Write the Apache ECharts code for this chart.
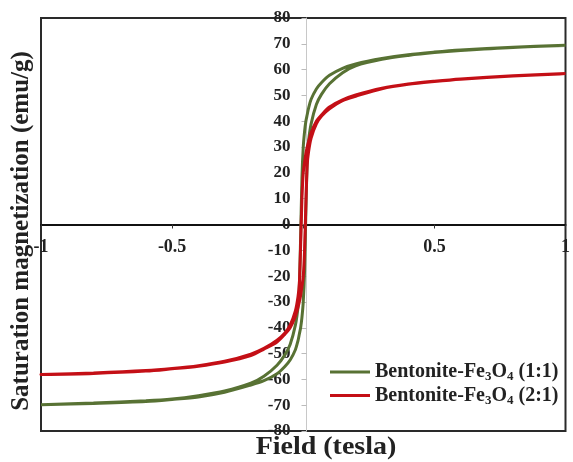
<!DOCTYPE html>
<html>
<head>
    <meta charset="utf-8">
    <title>ECharts</title>
    <script src="https://cdn.jsdelivr.net/npm/echarts@6/dist/echarts.min.js"></script>
    <style>
        html, body { margin: 0; padding: 0; background: #fff; }
    </style>
</head>
<body>
    <div id="main" style="width: 573px;height:462px;"></div>

    <script type="text/javascript">
    // field values (tesla), ascending
    var fieldT = [-1, -0.8, -0.6, -0.5, -0.4, -0.3, -0.2, -0.15, -0.1, -0.07, -0.05, -0.03, -0.02, -0.015, -0.01, -0.005,
        0, 0.005, 0.01, 0.015, 0.02, 0.03, 0.05, 0.07, 0.1, 0.15, 0.2, 0.3, 0.4, 0.5, 0.6, 0.8, 1];

    // Bentonite-Fe3O4 (1:1): upper (field going down) and lower (field going up) branches
    var green_upper = [-69.8, -69.2, -68.3, -67.6, -66.3, -64.5, -61.5, -58.8, -54.5, -50.5, -46.5, -39, -32, -24, -5, 18,
        30, 36, 40, 42.5, 45, 48.5, 52.5, 55, 57.8, 60.5, 62.2, 64.3, 65.8, 66.8, 67.6, 68.7, 69.4];
    var green_lower = [-69.9, -69.3, -68.6, -67.8, -66.8, -65, -62.2, -60.5, -57.8, -55, -52.5, -48.5, -45, -42.5, -40, -36,
        -30, -18, 5, 24, 32, 39, 46.5, 50.5, 54.5, 58.8, 61.5, 64, 65.5, 66.6, 67.4, 68.6, 69.3];

    // Bentonite-Fe3O4 (2:1)
    var red_upper = [-58.1, -57.5, -56.6, -55.8, -54.7, -53, -50.2, -48, -44.8, -42, -39, -33.5, -28, -23, -8, 10,
        20, 24, 27.5, 30, 32, 35.5, 40, 42.5, 45.5, 48.3, 50.2, 52.8, 54.4, 55.5, 56.4, 57.6, 58.5];
    var red_lower = [-58.2, -57.7, -56.8, -55.9, -54.9, -53.3, -50.8, -48.3, -45.5, -42.5, -40, -35.5, -32, -30, -27.5, -24,
        -20, -10, 8, 23, 28, 33.5, 39, 42, 44.8, 48, 49.7, 52.6, 54.3, 55.4, 56.3, 57.5, 58.4];

    var seriesNames = ['Bentonite-Fe3O4 (1:1)', 'Bentonite-Fe3O4 (2:1)'];
    var seriesColors = ['#587234', '#c40f16'];

    function loop(upper, lower) {
        var pts = [];
        for (var i = fieldT.length - 1; i >= 0; i--) pts.push([fieldT[i], upper[i]]);
        for (var j = 1; j < fieldT.length; j++) pts.push([fieldT[j], lower[j]]);
        return pts;
    }

    var font = 'Liberation Serif';
    var myChart = echarts.init(document.getElementById('main'));

    // grid box: x 41..572, y 18..431 ; axes cross at the data origin
    var gLeft = 41, gRight = 1, gTop = 18, gBottom = 31;
    var plotW = 573 - gLeft - gRight, plotH = 462 - gTop - gBottom;

    var option = {
        animation: false,
        backgroundColor: '#fff',
        grid: {
            left: gLeft, right: gRight, top: gTop, bottom: gBottom,
            show: true,
            borderColor: '#2a2a2a',
            borderWidth: 2
        },
        legend: {
            orient: 'vertical',
            left: 325,
            top: 357,
            itemWidth: 40,
            itemHeight: 3,
            itemGap: 2,
            icon: 'rect',
            data: seriesNames,
            formatter: function (name) {
                var ratio = name.indexOf('(1:1)') >= 0 ? '(1:1)' : '(2:1)';
                return '{a|Bentonite-Fe}{s|3}{a|O}{s|4}{a| ' + ratio + '}';
            },
            textStyle: {
                rich: {
                    a: { fontFamily: font, fontWeight: 'bold', fontSize: 20, color: '#222' },
                    s: { fontFamily: font, fontWeight: 'bold', fontSize: 13, color: '#222', padding: [10, 0, 0, 0] }
                }
            }
        },
        xAxis: {
            type: 'value',
            min: -1,
            max: 1,
            interval: 0.5,
            position: 'bottom',
            offset: -plotH / 2,
            axisLine: { onZero: false, lineStyle: { color: '#111', width: 2 } },
            axisTick: { show: true, length: 4, lineStyle: { color: '#333' } },
            axisLabel: {
                fontFamily: font, fontWeight: 'bold', fontSize: 18, color: '#222', margin: 14,
                showMinLabel: true, showMaxLabel: true,
                formatter: function (v) { return v === 0 ? '' : String(v); }
            },
            splitLine: { show: false }
        },
        yAxis: {
            type: 'value',
            min: -80,
            max: 80,
            interval: 10,
            position: 'left',
            offset: -plotW / 2,
            axisLine: { onZero: false, lineStyle: { color: '#c8c8c8', width: 1 } },
            axisTick: { show: true, length: 5, lineStyle: { color: '#bbb' } },
            axisLabel: { fontFamily: font, fontWeight: 'bold', fontSize: 17, color: '#222', margin: 16 },
            splitLine: { show: false }
        },
        graphic: [{
            type: 'text',
            x: 22,
            y: 231,
            rotation: Math.PI / 2,
            style: {
                text: 'Saturation magnetization (emu/g)',
                fontFamily: font, fontWeight: 'bold', fontSize: 25, fill: '#222',
                align: 'center', verticalAlign: 'middle'
            }
        }, {
            type: 'text',
            x: 326,
            y: 448,
            scaleX: 1.12,
            style: {
                text: 'Field (tesla)',
                fontFamily: font, fontWeight: 'bold', fontSize: 25, fill: '#222',
                align: 'center', verticalAlign: 'middle'
            }
        }],
        series: [{
            name: seriesNames[0],
            type: 'line',
            smooth: 0.3,
            showSymbol: false,
            z: 2,
            color: seriesColors[0],
            lineStyle: { color: seriesColors[0], width: 3 },
            data: loop(green_upper, green_lower)
        }, {
            name: seriesNames[1],
            type: 'line',
            smooth: 0.3,
            showSymbol: false,
            z: 3,
            color: seriesColors[1],
            lineStyle: { color: seriesColors[1], width: 3 },
            data: loop(red_upper, red_lower)
        }]
    };

    myChart.setOption(option);
    </script>
</body>
</html>
